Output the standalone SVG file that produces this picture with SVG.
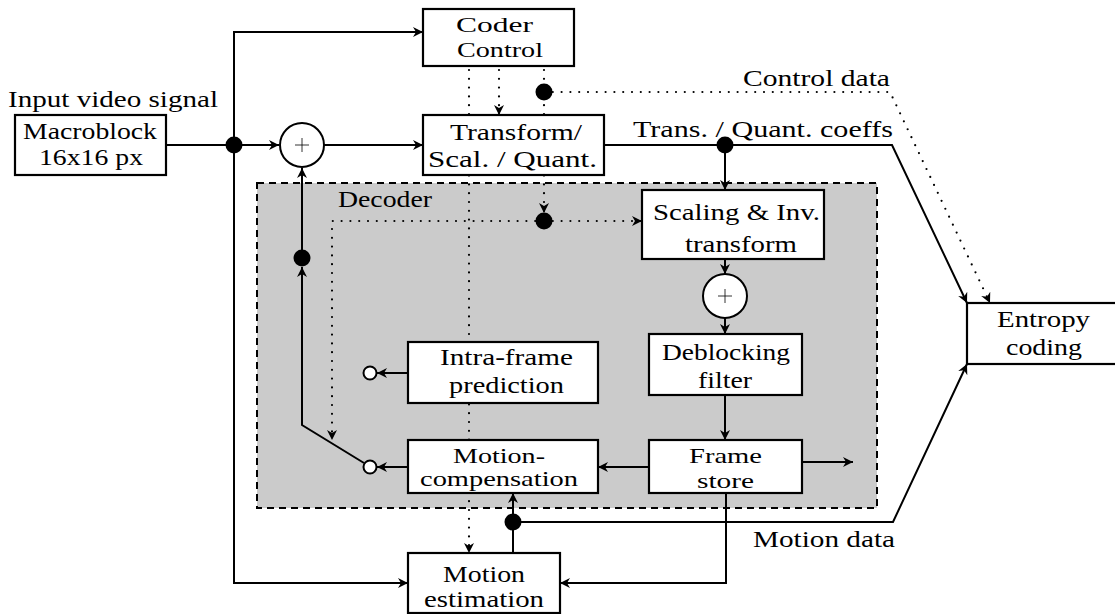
<svg xmlns="http://www.w3.org/2000/svg" width="1115" height="614" viewBox="0 0 1115 614">
  <defs>
    <marker id="arr" viewBox="0 0 10 10" refX="10" refY="5" markerWidth="12" markerHeight="10" markerUnits="userSpaceOnUse" orient="auto">
      <path d="M0,0 L10,5 L0,10 L3,5 z" fill="#000"/>
    </marker>
    <style>
      text { font-family: 'Liberation Serif', 'Times New Roman', serif; font-size: 24px; fill: #000; }
      .tight { font-size: 22px; }
      .box { fill: #fff; stroke: #000; stroke-width: 2.2; }
      .wire { fill: none; stroke: #000; stroke-width: 2; }
      .ctl { fill: none; stroke: #000; stroke-width: 2.2; stroke-linecap: round; stroke-dasharray: 0 8.8; }
      .dot { fill: #000; }
      .open { fill: #fff; stroke: #000; stroke-width: 2; }
      .plus { stroke: #000; stroke-width: 0.8; }
    </style>
  </defs>

  <!-- decoder region -->
  <g id="decoder">
    <rect x="257" y="183" width="620" height="325" fill="#cbcbcb" stroke="#000" stroke-width="2" stroke-dasharray="7 5"/>
    <text x="338" y="207" textLength="94" lengthAdjust="spacingAndGlyphs">Decoder</text>
  </g>

  <!-- connectors -->
  <g id="connectors">
    <!-- input signal split -->
    <path class="wire" d="M166,145 H279" marker-end="url(#arr)"/>
    <path class="wire" d="M234,145 V32 H423" marker-end="url(#arr)"/>
    <path class="wire" d="M234,145 V583 H408" marker-end="url(#arr)"/>
    <!-- sum to transform -->
    <path class="wire" d="M324,145 H423" marker-end="url(#arr)"/>
    <!-- coefficients to entropy coding -->
    <path class="wire" d="M604,145 H892 L967,303" marker-end="url(#arr)"/>
    <path class="wire" d="M725,145 V190" marker-end="url(#arr)"/>
    <!-- decoder chain -->
    <path class="wire" d="M725,259 V274" marker-end="url(#arr)"/>
    <path class="wire" d="M725,318 V334" marker-end="url(#arr)"/>
    <path class="wire" d="M725,395 V440" marker-end="url(#arr)"/>
    <path class="wire" d="M649,467 H598" marker-end="url(#arr)"/>
    <path class="wire" d="M802,462 H853" marker-end="url(#arr)"/>
    <path class="wire" d="M726,493 V583 H560" marker-end="url(#arr)"/>
    <!-- motion data -->
    <path class="wire" d="M513,553 V493" marker-end="url(#arr)"/>
    <path class="wire" d="M513,522 H893 L967,364" marker-end="url(#arr)"/>
    <!-- prediction outputs and switch -->
    <path class="wire" d="M408,467 H377" marker-end="url(#arr)"/>
    <path class="wire" d="M408,373 H377" marker-end="url(#arr)"/>
    <path class="wire" d="M364,463 L302,425 V267" marker-end="url(#arr)"/>
    <path class="wire" d="M302,258 V168" marker-end="url(#arr)"/>
    <!-- control signals -->
    <path class="ctl" d="M469,70 V553" marker-end="url(#arr)"/>
    <path class="ctl" d="M499,70 V115" marker-end="url(#arr)"/>
    <path class="ctl" d="M544,70 V213" marker-end="url(#arr)"/>
    <path class="ctl" d="M544,92 H890 L990,303" marker-end="url(#arr)"/>
    <path class="ctl" d="M544,221 H642" marker-end="url(#arr)"/>
    <path class="ctl" d="M544,221 H332 V440" marker-end="url(#arr)"/>
  </g>

  <!-- junctions -->
  <g id="junctions">
    <circle class="dot" cx="234" cy="145" r="8.5"/>
    <circle class="dot" cx="725" cy="145" r="8.5"/>
    <circle class="dot" cx="302" cy="258" r="8.5"/>
    <circle class="dot" cx="544" cy="92" r="8.5"/>
    <circle class="dot" cx="544" cy="221" r="8.5"/>
    <circle class="dot" cx="513" cy="522" r="8.5"/>
    <circle class="open" cx="370" cy="467" r="6.5"/>
    <circle class="open" cx="370" cy="373" r="6.5"/>
  </g>

  <text x="8" y="107" textLength="210" lengthAdjust="spacingAndGlyphs">Input video signal</text>
  <text x="633" y="137" textLength="260" lengthAdjust="spacingAndGlyphs">Trans. / Quant. coeffs</text>
  <text x="743" y="86" textLength="147" lengthAdjust="spacingAndGlyphs">Control data</text>
  <text x="753" y="547" textLength="142" lengthAdjust="spacingAndGlyphs">Motion data</text>

  <g id="macroblock">
    <rect class="box" x="15" y="115" width="151" height="60"/>
    <text x="23" y="139" textLength="134" lengthAdjust="spacingAndGlyphs">Macroblock</text>
    <text x="39" y="165" textLength="104" lengthAdjust="spacingAndGlyphs">16x16 px</text>
  </g>

  <g id="sum-in">
    <circle class="open" cx="302" cy="145" r="22"/>
    <path class="plus" d="M295,145 H309 M302,138 V152"/>
  </g>

  <g id="coder-control">
    <rect class="box" x="423" y="9" width="151" height="57"/>
    <text class="tight" x="456" y="32" textLength="77" lengthAdjust="spacingAndGlyphs">Coder</text>
    <text class="tight" x="457" y="57" textLength="86" lengthAdjust="spacingAndGlyphs">Control</text>
  </g>

  <g id="transform">
    <rect class="box" x="423" y="115" width="181" height="60"/>
    <text x="450" y="140" textLength="132" lengthAdjust="spacingAndGlyphs">Transform/</text>
    <text x="428" y="167" textLength="169" lengthAdjust="spacingAndGlyphs">Scal. / Quant.</text>
  </g>

  <g id="inverse-transform">
    <rect class="box" x="642" y="190" width="182" height="69"/>
    <text x="653" y="220" textLength="167" lengthAdjust="spacingAndGlyphs">Scaling &amp; Inv.</text>
    <text x="685" y="252" textLength="112" lengthAdjust="spacingAndGlyphs">transform</text>
  </g>

  <g id="sum-rec">
    <circle class="open" cx="725" cy="296" r="22"/>
    <path class="plus" d="M718,296 H732 M725,289 V303"/>
  </g>

  <g id="deblocking">
    <rect class="box" x="649" y="334" width="153" height="61"/>
    <text x="662" y="360" textLength="128" lengthAdjust="spacingAndGlyphs">Deblocking</text>
    <text x="698" y="388" textLength="54" lengthAdjust="spacingAndGlyphs">filter</text>
  </g>

  <g id="frame-store">
    <rect class="box" x="649" y="440" width="153" height="53"/>
    <text class="tight" x="689" y="463" textLength="73" lengthAdjust="spacingAndGlyphs">Frame</text>
    <text class="tight" x="697" y="488" textLength="57" lengthAdjust="spacingAndGlyphs">store</text>
  </g>

  <g id="intra-prediction">
    <rect class="box" x="408" y="342" width="190" height="61"/>
    <text x="440" y="365" textLength="133" lengthAdjust="spacingAndGlyphs">Intra-frame</text>
    <text x="449" y="393" textLength="115" lengthAdjust="spacingAndGlyphs">prediction</text>
  </g>

  <g id="motion-compensation">
    <rect class="box" x="408" y="440" width="190" height="53"/>
    <text class="tight" x="453" y="463" textLength="92" lengthAdjust="spacingAndGlyphs">Motion-</text>
    <text class="tight" x="420" y="486" textLength="158" lengthAdjust="spacingAndGlyphs">compensation</text>
  </g>

  <g id="motion-estimation">
    <rect class="box" x="408" y="553" width="152" height="60"/>
    <text x="443" y="582" textLength="82" lengthAdjust="spacingAndGlyphs">Motion</text>
    <text x="424" y="607" textLength="120" lengthAdjust="spacingAndGlyphs">estimation</text>
  </g>

  <g id="entropy-coding">
    <rect class="box" x="967" y="303" width="160" height="61"/>
    <text x="997" y="327" textLength="93" lengthAdjust="spacingAndGlyphs">Entropy</text>
    <text x="1006" y="355" textLength="76" lengthAdjust="spacingAndGlyphs">coding</text>
  </g>
</svg>
